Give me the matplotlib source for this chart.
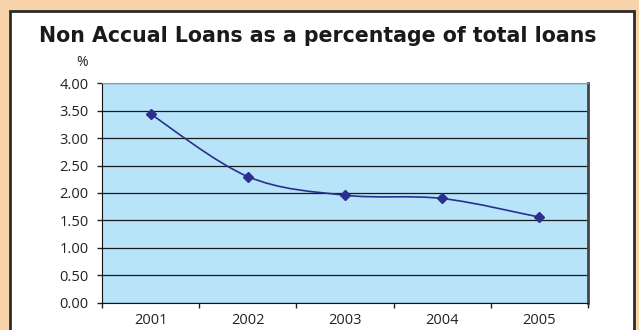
import matplotlib
matplotlib.use("Agg")
import matplotlib.pyplot as plt
from matplotlib.path import Path
from matplotlib.patches import PathPatch, Rectangle
from matplotlib.ticker import MultipleLocator, FixedLocator, FormatStrFormatter

years = ["2001", "2002", "2003", "2004", "2005"]
ratio_pct = [3.44, 2.30, 1.96, 1.90, 1.56]

title = "Non Accual Loans as a percentage of total loans"

PEACH = "#F6D3A8"
PLOT_BG = "#B7E4F8"
LINE = "#2B2F8F"

plt.rcParams["font.family"] = ["Open Sans", "DejaVu Sans"]

W, H = 639, 330
fig = plt.figure(figsize=(W / 100, H / 100), dpi=100, facecolor=PEACH)

# white card with a dark frame
card = Rectangle((10 / W, -0.05), 624 / W, 1 - 10.5 / H + 0.05,
                 transform=fig.transFigure, facecolor="white",
                 edgecolor="#2b2b2b", linewidth=2, zorder=-5)
fig.patches.append(card)

ax = fig.add_axes([102 / W, 1 - 302.7 / H, 486 / W, 219.4 / H])
ax.set_zorder(2)
ax.set_facecolor(PLOT_BG)

x = list(range(len(years)))

# Excel-style smoothed line: cubic Bezier through the points
pts = list(zip(x, ratio_pct))
verts = [pts[0]]
codes = [Path.MOVETO]
for i in range(len(pts) - 1):
    p0 = pts[i - 1] if i > 0 else pts[i]
    p1 = pts[i]
    p2 = pts[i + 1]
    p3 = pts[i + 2] if i + 2 < len(pts) else pts[i + 1]
    c1 = (p1[0] + (p2[0] - p0[0]) / 6, p1[1] + (p2[1] - p0[1]) / 6)
    c2 = (p2[0] - (p3[0] - p1[0]) / 6, p2[1] - (p3[1] - p1[1]) / 6)
    verts += [c1, c2, p2]
    codes += [Path.CURVE4] * 3
ax.add_patch(PathPatch(Path(verts, codes), facecolor="none",
                       edgecolor=LINE, linewidth=1.2, zorder=3))
ax.plot(x, ratio_pct, linestyle="none", marker="D", markersize=5.5,
        color=LINE, zorder=4)

ax.set_xlim(-0.5, len(years) - 0.5)
ax.set_ylim(0, 4)

ax.yaxis.set_major_locator(MultipleLocator(0.5))
ax.yaxis.set_major_formatter(FormatStrFormatter("%.2f"))
ax.grid(axis="y", color="#1a1a1a", linewidth=0.9)
ax.set_axisbelow(True)

# ticks between categories, labels centred under each year
ax.xaxis.set_major_locator(FixedLocator([i - 0.5 for i in range(len(years) + 1)]))
ax.xaxis.set_minor_locator(FixedLocator(x))
ax.set_xticklabels([], minor=False)
ax.set_xticklabels(years, minor=True)
ax.tick_params(axis="x", which="major", direction="out", length=3.5,
               width=1, color="#222222")
ax.tick_params(axis="x", which="minor", length=0, pad=7.5, labelsize=10.5,
               labelcolor="#222222")
ax.tick_params(axis="y", direction="out", length=3.5, width=1, pad=6,
               labelsize=10.5, labelcolor="#222222", color="#222222")

ax.spines["left"].set_color("#111111")
ax.spines["bottom"].set_color("#111111")
ax.spines["top"].set_color("#9a9a9a")
ax.spines["top"].set_linewidth(0.8)
ax.spines["right"].set_color("#444444")
ax.spines["right"].set_linewidth(2)

fig.text(82 / W, 1 - 63 / H, "%", ha="center", va="center",
         fontsize=10, color="#222222")
fig.text(318 / W, 1 - 42 / H, title, ha="center", va="baseline",
         fontsize=14.8, fontweight="bold", color="#1a1a1a",
         family=["DejaVu Sans"])

fig.savefig("out.png", dpi=100, facecolor=PEACH)
